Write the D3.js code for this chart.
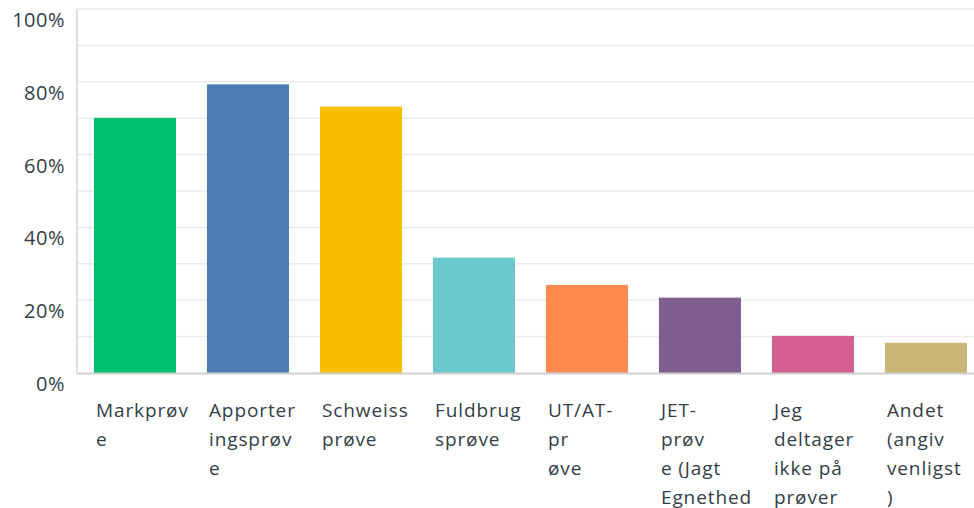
<!DOCTYPE html>
<html>
<head>
<meta charset="utf-8">
<script src="https://cdn.jsdelivr.net/npm/d3@7"></script>
<style>
  html, body { margin: 0; padding: 0; background: #fff; }
  svg { display: block; }
  text { font-family: "Open Sans", "Noto Sans", sans-serif; fill: #333e48; }
</style>
</head>
<body>
<svg id="chart" width="974" height="508"></svg>
<script>
const categories = ["Markprøve", "Apporteringsprøve", "Schweissprøve", "Fuldbrugsprøve", "UT/AT-prøve", "JET-prøve (Jagt Egnethed", "Jeg deltager ikke på prøver", "Andet (angiv venligst)"];
const labelLines = [
  ["Markprøv", "e"],
  ["Apporter", "ingsprøv", "e"],
  ["Schweiss", "prøve"],
  ["Fuldbrug", "sprøve"],
  ["UT/AT-", "pr", "øve"],
  ["JET-", "prøv", "e (Jagt", "Egnethed"],
  ["Jeg", "deltager", "ikke på", "prøver"],
  ["Andet", "(angiv", "venligst", ")"]
];
const values = [70.1, 79.3, 73.2, 31.7, 24.2, 20.7, 10.2, 8.3];
const colors = ["#00bf6f", "#507cb6", "#f9be00", "#6bc8cd", "#ff8b50", "#7d5e8f", "#d25f90", "#c9b677"];
const yTicks = [0, 20, 40, 60, 80, 100];
const gridTicks = [10, 20, 30, 40, 50, 60, 70, 80, 90, 100];

const svg = d3.select("#chart");
const mLeft = 77, mRight = 974, mTop = 9, mBottom = 373;

const x = d3.scaleBand()
  .domain(categories)
  .range([mLeft, mLeft + 906.9])
  .paddingInner(0.274)
  .paddingOuter(0.150);

const y = d3.scaleLinear().domain([0, 100]).range([mBottom, mTop]);

// gridlines
svg.append("g").selectAll("line").data(gridTicks).join("line")
  .attr("x1", mLeft).attr("x2", mRight)
  .attr("y1", d => y(d)).attr("y2", d => y(d))
  .attr("stroke", "#ececec").attr("stroke-width", 1.5);

// left axis line
svg.append("line")
  .attr("x1", mLeft).attr("x2", mLeft)
  .attr("y1", mTop).attr("y2", mBottom)
  .attr("stroke", "#d4d4d4").attr("stroke-width", 1.5);

// bars
svg.append("g").selectAll("rect").data(values).join("rect")
  .attr("x", (d, i) => x(categories[i]))
  .attr("width", x.bandwidth())
  .attr("y", d => y(d))
  .attr("height", d => y(0) - y(d))
  .attr("fill", (d, i) => colors[i]);

// bottom axis line
svg.append("line")
  .attr("x1", mLeft).attr("x2", mRight)
  .attr("y1", mBottom + 0.5).attr("y2", mBottom + 0.5)
  .attr("stroke", "#d0d0d0").attr("stroke-width", 2);

// y tick labels
svg.append("g").selectAll("text").data(yTicks).join("text")
  .attr("x", 65)
  .attr("y", d => y(d) + 18)
  .attr("text-anchor", "end")
  .attr("font-size", 20)
  .attr("letter-spacing", 0.5)
  .text(d => d + "%");

// x labels
const xl = svg.append("g").selectAll("text").data(categories).join("text")
  .attr("x", d => x(d) + 2)
  .attr("y", 417)
  .attr("font-size", 19)
  .attr("letter-spacing", 0.9);
xl.each(function(d, i) {
  d3.select(this).selectAll("tspan").data(labelLines[i]).join("tspan")
    .attr("x", x(d) + 2)
    .attr("dy", (t, j) => j === 0 ? 0 : 29)
    .text(t => t);
});
</script>
</body>
</html>
